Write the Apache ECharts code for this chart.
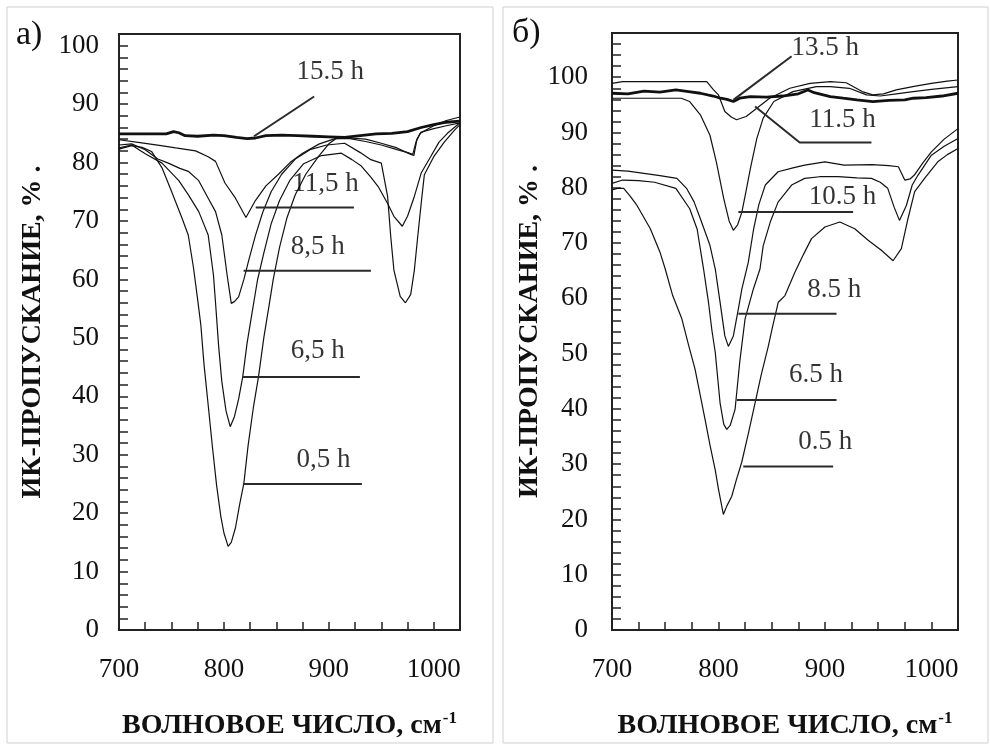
<!DOCTYPE html>
<html>
<head>
<meta charset="utf-8">
<script src="https://cdn.jsdelivr.net/npm/echarts@6/dist/echarts.min.js"></script>
<style>
  html, body { margin: 0; padding: 0; background: #fff; }
  #chart { width: 990px; height: 749px; }
</style>
</head>
<body>
<div id="chart"></div>
<script>
// ---- Panel а): IR transmission spectra, wavenumber (cm-1) vs transmission (%) ----
var aX155 = [700, 720, 745, 752, 757, 763, 775, 790, 800, 812, 822, 830, 840, 855, 870, 885, 900, 915, 930, 945, 960, 975, 988, 1000, 1012, 1025];
var aY155 = [84.9, 84.9, 84.9, 85.3, 85.1, 84.6, 84.5, 84.7, 84.6, 84.3, 84.1, 84.2, 84.6, 84.7, 84.6, 84.5, 84.4, 84.3, 84.6, 84.9, 85.0, 85.3, 86.0, 86.5, 86.9, 87.1];

var aX115 = [700, 720, 740, 754, 773, 785, 792, 801, 811, 821, 830, 840, 852, 863, 875, 891, 906, 920, 935, 950, 965, 978, 981, 984, 988, 1000, 1012, 1025];
var aY115 = [83.9, 83.4, 82.9, 82.5, 82.0, 81.0, 80.2, 76.5, 73.9, 70.6, 73.5, 76.0, 78.0, 80.0, 81.6, 83.2, 84.1, 84.2, 84.0, 83.3, 82.5, 81.4, 81.2, 84.0, 85.2, 85.8, 86.3, 86.8];

var aX85 = [700, 712, 725, 737, 747, 758, 766, 776, 785, 792, 798, 803, 807, 810, 814, 819, 824, 830, 837, 845, 855, 868, 882, 898, 915, 930, 940, 950, 956, 959, 962, 968, 973, 978, 981.5, 984.7, 988, 991, 1000, 1010, 1020, 1025];
var aY85 = [83.0, 83.2, 82.2, 80.6, 79.9, 79.0, 78.5, 76.9, 73.9, 71.6, 67.6, 60.8, 55.9, 56.2, 57.0, 60.0, 63.5, 67.5, 71.5, 75.0, 78.0, 80.6, 82.2, 83.0, 83.3, 81.7, 80.5, 79.9, 74.2, 67.3, 61.6, 57.1, 56.0, 57.4, 61.6, 67.3, 73.0, 77.9, 81.0, 83.5, 85.6, 86.5];

var aX65 = [700, 712, 725, 741, 757, 766, 776, 785, 790, 792, 795, 798, 802, 806, 810, 814, 818, 822, 827, 832, 838, 845, 853, 863, 876, 893, 912, 922, 931, 940, 947, 956, 962, 970, 975, 981.5, 988, 997, 1005, 1013, 1025];
var aY65 = [82.5, 83.0, 81.5, 79.9, 76.9, 74.5, 71.6, 67.6, 60.8, 56.0, 48.5, 42.5, 37.5, 34.8, 36.5, 39.5, 43.4, 49.0, 54.5, 59.9, 64.5, 69.5, 73.5, 77.0, 79.8, 81.2, 81.6, 80.5, 79.4, 77.5, 75.9, 73.0, 70.8, 69.1, 70.8, 74.2, 78.2, 81.0, 83.5, 85.0, 86.8];

var aX05 = [700, 712, 722, 731, 741, 750, 760, 766, 771, 775, 778, 781, 785, 789, 793, 797, 800, 804, 807, 811, 815, 819, 823, 828, 833, 838, 843, 847, 853, 860, 868, 878, 890, 900, 907, 920, 935, 950, 965, 977, 980, 983, 987, 1000, 1012, 1025];
var aY05 = [82.3, 82.9, 82.6, 81.9, 79.1, 75.1, 70.5, 67.6, 62.0, 56.5, 52.2, 45.5, 38.5, 31.4, 24.8, 19.5, 16.6, 14.3, 15.0, 17.5, 21.5, 25.1, 31.5, 38.0, 43.4, 50.0, 55.5, 60.0, 65.5, 70.5, 74.5, 78.0, 81.0, 83.2, 84.1, 84.1, 83.6, 83.0, 82.2, 81.6, 81.4, 83.5, 85.0, 86.3, 87.2, 87.8];

// ---- Panel б) ----
var bX135 = [700, 715, 730, 745, 760, 772, 783, 795, 802, 808, 814, 820, 830, 845, 860, 875, 884, 890, 905, 917, 930, 945, 960, 975, 983, 995, 1010, 1025];
var bY135 = [97.1, 97.0, 97.5, 97.3, 97.7, 97.4, 97.1, 96.6, 96.2, 96.0, 95.6, 96.2, 96.5, 96.4, 96.6, 97.0, 97.7, 97.2, 96.5, 96.2, 95.9, 95.6, 95.8, 95.9, 96.2, 96.3, 96.6, 97.1];

var bX115 = [700, 710, 730, 760, 789, 795, 800, 806, 812, 817, 826, 836, 848, 867, 886, 905, 920, 935, 945, 955, 967, 985, 1000, 1015, 1025];
var bY115 = [98.9, 99.2, 99.2, 99.2, 99.2, 97.8, 96.8, 93.8, 92.8, 92.3, 92.9, 94.4, 96.2, 98.0, 98.9, 99.2, 99.0, 97.4, 96.8, 97.0, 97.7, 98.4, 98.9, 99.3, 99.5];

var bX105 = [700, 720, 745, 765, 773, 783, 792, 798, 805, 810, 814, 818, 822, 826, 830, 836, 842, 852, 870, 892, 905, 923, 939, 952, 967, 983, 1000, 1025];
var bY105 = [96.2, 96.2, 96.2, 96.2, 95.6, 93.2, 89.5, 84.7, 78.0, 74.0, 72.3, 73.3, 75.6, 79.5, 83.5, 88.9, 92.6, 95.6, 97.4, 98.3, 98.3, 98.0, 96.8, 96.6, 97.0, 97.4, 97.8, 98.3];

var bX85 = [700, 715, 730, 745, 761, 770, 777, 783, 792, 797, 801.5, 806, 809.3, 814, 818.7, 822, 828, 833, 838, 844, 856, 870, 881, 900, 918, 944, 960, 969, 975, 980, 984, 992, 1000, 1012, 1025];
var bY85 = [83.2, 83.0, 82.6, 82.2, 81.7, 79.9, 77.5, 74.4, 69.6, 65.3, 59.3, 53.2, 51.3, 53.2, 58.1, 61.7, 66.5, 72.5, 77.0, 80.5, 82.9, 83.6, 84.1, 84.7, 84.1, 84.2, 84.0, 83.8, 81.4, 81.6, 82.3, 84.5, 86.5, 88.8, 90.7];

var bX65 = [700, 710, 725, 740, 760, 773, 780, 786, 790.6, 794, 797, 801.5, 805, 807.8, 811, 815.6, 820, 825, 832.8, 839, 842, 849, 856, 868.7, 881, 895, 912.5, 930, 943.7, 952, 959, 965, 970, 976.5, 982, 987.5, 1000, 1012, 1025];
var bY65 = [80.8, 81.4, 81.3, 81.0, 79.9, 76.2, 72.5, 65.3, 59.3, 54.0, 50.2, 41.1, 37.2, 36.3, 37.0, 39.9, 48.5, 56.3, 61.7, 65.3, 69.5, 74.0, 77.4, 80.5, 81.7, 82.0, 82.0, 81.8, 81.7, 81.0, 79.9, 76.5, 74.1, 76.8, 80.5, 82.3, 85.9, 87.5, 88.9];

var bX05 = [700, 705, 711, 717, 723.5, 736, 745, 750, 757, 765.6, 772, 778, 787.4, 792, 796.9, 800, 804.6, 808, 812.5, 817, 821.8, 828, 834.4, 840, 846.9, 851, 856.2, 862.5, 871.8, 880, 887.4, 900, 914, 928, 940.6, 953, 964, 971.8, 978, 984.3, 993.6, 1006, 1015, 1025];
var bY05 = [79.6, 79.9, 79.9, 78.5, 76.8, 72.6, 68.4, 65.3, 60.5, 56.3, 51.5, 47.2, 38.1, 33.5, 29.0, 25.5, 20.9, 22.5, 24.2, 27.3, 30.3, 35.5, 41.1, 46.0, 51.4, 55.0, 59.3, 60.5, 64.7, 68.0, 70.8, 72.9, 73.8, 72.6, 70.5, 68.7, 66.8, 69.0, 74.4, 79.3, 81.7, 84.7, 86.0, 87.1];

// ---- Curve tags: text, text anchor [x, y], leader polyline ----
var aTagText = ['15.5 h', '11,5 h', '8,5 h', '6,5 h', '0,5 h'];
var aTagAt = [[901.9, 95.4], [897.2, 76.2], [890, 65.4], [890, 47.7], [895.5, 29.1]];
var aTagLead = [
  [[886, 91.3], [828.7, 84.5]],
  [[830.3, 72.3], [923.9, 72.3]],
  [[818.8, 61.5], [940.1, 61.5]],
  [[817.6, 43.3], [929.6, 43.3]],
  [[818.1, 25.0], [931.5, 25.0]]
];
var bTagText = ['13.5 h', '11.5 h', '10.5 h', '8.5 h', '6.5 h', '0.5 h'];
var bTagAt = [[900.7, 105.3], [917, 92.1], [917, 78.3], [909.3, 61.4], [892.1, 46.0], [900.7, 33.9]];
var bTagLead = [
  [[868.7, 103.8], [814, 95.9]],
  [[834.4, 94.7], [876.3, 88.2], [943.7, 88.2]],
  [[818.7, 75.6], [926.5, 75.6]],
  [[818.7, 57.2], [910.9, 57.2]],
  [[817.2, 41.6], [910.9, 41.6]],
  [[823.3, 29.6], [907.7, 29.6]]
];

var xTicksMajor = 100;
var yTicksMajor = 10;

var SERIF = '"Liberation Serif", "Times New Roman", serif';
var INK = '#111';

function pairs(xs, ys) {
  return xs.map(function (x, i) { return [x, ys[i]]; });
}

function curve(idx, xs, ys, width) {
  return {
    type: 'line', xAxisIndex: idx, yAxisIndex: idx,
    data: pairs(xs, ys), symbol: 'none', smooth: false, silent: true,
    lineStyle: { color: INK, width: width }, z: 3
  };
}

function leaders(idx, list) {
  return list.map(function (pts) {
    return {
      type: 'line', xAxisIndex: idx, yAxisIndex: idx, data: pts,
      symbol: 'none', silent: true,
      lineStyle: { color: '#2a2a2a', width: 2 }, z: 4
    };
  });
}

function tags(idx, texts, at) {
  return {
    type: 'scatter', xAxisIndex: idx, yAxisIndex: idx, symbolSize: 1, silent: true,
    itemStyle: { color: 'rgba(0,0,0,0)' },
    data: at.map(function (p, i) { return { value: p, name: texts[i] }; }),
    label: {
      show: true, position: [0, 0], align: 'center', verticalAlign: 'middle',
      formatter: '{b}', fontFamily: SERIF, fontSize: 27, color: '#000',
      textBorderWidth: 0
    }, z: 5
  };
}

function xAxis(idx) {
  return {
    type: 'value', gridIndex: idx, min: 700, max: 1025, interval: 25,
    axisLine: { show: true, onZero: false, lineStyle: { color: '#222', width: 2 } },
    axisTick: { show: true, inside: true, length: 8, lineStyle: { color: '#222', width: 1.5 } },
    splitLine: { show: false },
    axisLabel: {
      margin: 26, fontFamily: SERIF, fontSize: 27, color: INK,
      formatter: function (v) { return v % xTicksMajor === 0 ? String(v) : ''; }
    },
    name: '{t|ВОЛНОВОЕ ЧИСЛО, см}{s|-1}', nameLocation: 'middle', nameGap: 80,
    nameTextStyle: {
      rich: {
        t: { fontFamily: SERIF, fontWeight: 'bold', fontSize: 28, color: INK, lineHeight: 32 },
        s: { fontFamily: SERIF, fontWeight: 'bold', fontSize: 17, color: INK, lineHeight: 32, verticalAlign: 'top', padding: [0, 0, 12, 1] }
      }
    }
  };
}

function yAxis(idx, max, gap, margin) {
  return {
    type: 'value', gridIndex: idx, min: 0, max: max, interval: 2,
    axisLine: { show: true, onZero: false, lineStyle: { color: '#222', width: 2 } },
    axisTick: { show: true, inside: true, length: 9, lineStyle: { color: '#222', width: 1.5 } },
    splitLine: { show: false },
    axisLabel: {
      margin: margin, fontFamily: SERIF, fontSize: 27, color: INK,
      formatter: function (v) { return (v % yTicksMajor === 0 && v <= 100) ? String(v) : ''; }
    },
    name: 'ИК-ПРОПУСКАНИЕ, % .', nameLocation: 'middle', nameGap: gap,
    nameTextStyle: { fontFamily: SERIF, fontWeight: 'bold', fontSize: 28, color: INK }
  };
}

var chart = echarts.init(document.getElementById('chart'), null, { renderer: 'canvas' });

var series = [
  curve(0, aX155, aY155, 2.8),
  curve(0, aX115, aY115, 1.2),
  curve(0, aX85, aY85, 1.2),
  curve(0, aX65, aY65, 1.2),
  curve(0, aX05, aY05, 1.2),
  curve(1, bX135, bY135, 2.8),
  curve(1, bX115, bY115, 1.2),
  curve(1, bX105, bY105, 1.2),
  curve(1, bX85, bY85, 1.2),
  curve(1, bX65, bY65, 1.2),
  curve(1, bX05, bY05, 1.2)
].concat(leaders(0, aTagLead), leaders(1, bTagLead), [tags(0, aTagText, aTagAt), tags(1, bTagText, bTagAt)]);

chart.setOption({
  backgroundColor: '#fff',
  animation: false,
  grid: [
    { left: 119, top: 34, width: 341, height: 596, show: true, borderColor: '#222', borderWidth: 2, backgroundColor: 'transparent' },
    { left: 612, top: 33, width: 346, height: 597, show: true, borderColor: '#222', borderWidth: 2, backgroundColor: 'transparent' }
  ],
  xAxis: [xAxis(0), xAxis(1)],
  yAxis: [yAxis(0, 102, 72, 20), yAxis(1, 108, 68, 24)],
  graphic: [
    { type: 'rect', shape: { x: 7, y: 7, width: 486, height: 736 }, style: { fill: 'none', stroke: '#cfcfcf', lineWidth: 1 }, silent: true, z: -1 },
    { type: 'rect', shape: { x: 503, y: 7, width: 485, height: 736 }, style: { fill: 'none', stroke: '#cfcfcf', lineWidth: 1 }, silent: true, z: -1 },
    { type: 'text', left: 16, top: 18, style: { text: 'а)', font: '34px ' + SERIF, fill: INK } },
    { type: 'text', left: 512, top: 16, style: { text: 'б)', font: '34px ' + SERIF, fill: INK } }
  ],
  series: series
});
</script>
</body>
</html>
